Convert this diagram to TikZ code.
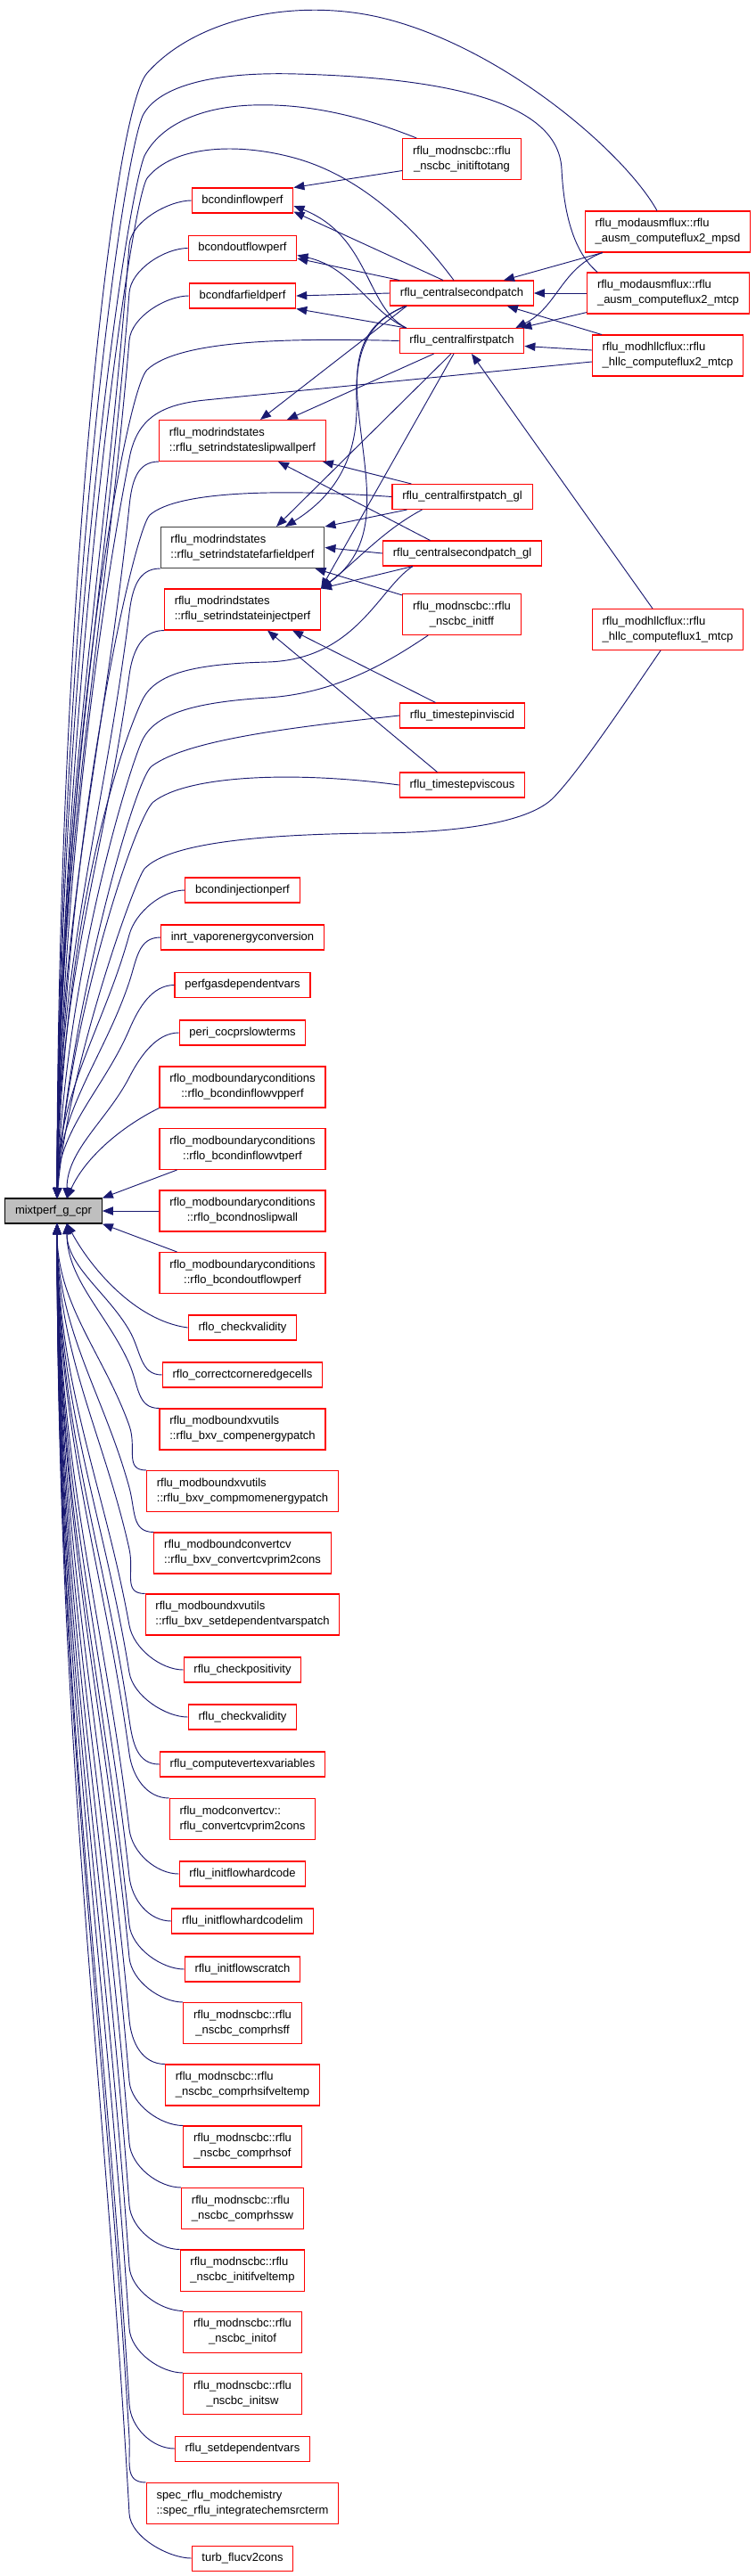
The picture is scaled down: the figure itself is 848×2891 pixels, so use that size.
\documentclass[tikz,border=0pt]{standalone}
\usepackage{fontspec}
\setmainfont{Liberation Sans}
\usepackage{xcolor}
\usetikzlibrary{arrows.meta, calc}
\definecolor{edgeblue}{HTML}{191970}
\definecolor{boxred}{HTML}{FF0000}
\definecolor{mixgray}{HTML}{BFBFBF}

\begin{document}
\begin{tikzpicture}[x=0.75pt, y=-0.75pt,
    every node/.style={font=\fontsize{9.75}{12.75}\selectfont},
    fnbox/.style={draw=boxred, line width=0.8pt, fill=white, inner xsep=8.5pt, inner ysep=2pt, minimum height=21pt},
    fnleft/.style={fnbox, minimum height=34.5pt, align=left},
    fnmid/.style={fnbox, minimum height=34.5pt, align=center},
    call/.style={draw=edgeblue, line width=0.7pt, -{Triangle[length=9pt, width=7pt]}}]
  \useasboundingbox (0,0) rectangle (848,2891);

  % the called function
  \node[fnbox, draw=black, fill=mixgray] (mix) at (60,1359) {mixtperf\_g\_cpr};

  % callers, one line
  \foreach \nm/\xx/\yy/\lbl in {
      bcinflow/272/225/bcondinflowperf, bcoutflow/272/278.5/bcondoutflowperf,
      bcfarfield/272/332/bcondfarfieldperf, bcinject/272/999/bcondinjectionperf,
      inrtvap/272/1052/inrt\_vaporenergyconversion, perfgas/272/1105.5/perfgasdependentvars,
      pericoc/272/1159/peri\_cocprslowterms, rflocheck/272/1490/rflo\_checkvalidity,
      corner/272/1543/rflo\_correctcorneredgecells, checkpos/272/1874/rflu\_checkpositivity,
      rflucheck/272/1927/rflu\_checkvalidity, vertexvars/272/1980/rflu\_computevertexvariables,
      hardcode/272/2103/rflu\_initflowhardcode, hardcodelim/272/2156/rflu\_initflowhardcodelim,
      scratch/272/2210/rflu\_initflowscratch, setdep/272/2748/rflu\_setdependentvars,
      turbcv/272/2871/turb\_flucv2cons,
      csecond/518/329/rflu\_centralsecondpatch, cfirst/518/382.5/rflu\_centralfirstpatch,
      cfirstgl/518.5/557.5/rflu\_centralfirstpatch\_gl, csecondgl/518.5/621/rflu\_centralsecondpatch\_gl,
      tsinv/518.5/803/rflu\_timestepinviscid, tsvisc/518.5/881/rflu\_timestepviscous}
    \node[fnbox] (\nm) at (\xx,\yy) {\lbl};

  % callers, two lines
  \foreach \nm/\xx/\yy/\lbl in {
      slipwall/272/494.5/rflu\_modrindstates\\::rflu\_setrindstateslipwallperf,
      inject/272/684/rflu\_modrindstates\\::rflu\_setrindstateinjectperf,
      compenergy/272/1604/rflu\_modboundxvutils\\::rflu\_bxv\_compenergypatch,
      compmomen/272/1673.5/rflu\_modboundxvutils\\::rflu\_bxv\_compmomenergypatch,
      bxvprim/272/1743/rflu\_modboundconvertcv\\::rflu\_bxv\_convertcvprim2cons,
      bxvsetdep/272/1812/rflu\_modboundxvutils\\::rflu\_bxv\_setdependentvarspatch,
      convprim/272/2041.5/rflu\_modconvertcv::\\rflu\_convertcvprim2cons,
      rhsifvt/272/2340/rflu\_modnscbc::rflu\\\_nscbc\_comprhsifveltemp,
      rhssw/272/2478.5/rflu\_modnscbc::rflu\\\_nscbc\_comprhssw,
      initifvt/272/2548/rflu\_modnscbc::rflu\\\_nscbc\_initifveltemp,
      specchem/272/2809.5/spec\_rflu\_modchemistry\\::spec\_rflu\_integratechemsrcterm,
      ausmmpsd/749/260/rflu\_modausmflux::rflu\\\_ausm\_computeflux2\_mpsd,
      ausmmtcp/749.5/329/rflu\_modausmflux::rflu\\\_ausm\_computeflux2\_mtcp,
      hllctwo/749/399/rflu\_modhllcflux::rflu\\\_hllc\_computeflux2\_mtcp,
      hllcone/749/706.5/rflu\_modhllcflux::rflu\\\_hllc\_computeflux1\_mtcp}
    \node[fnleft] (\nm) at (\xx,\yy) {\lbl};
  \foreach \nm/\xx/\yy/\lbl in {
      inflowvp/272/1220/rflo\_modboundaryconditions\\::rflo\_bcondinflowvpperf,
      inflowvt/272/1289.5/rflo\_modboundaryconditions\\::rflo\_bcondinflowvtperf,
      noslip/272/1359/rflo\_modboundaryconditions\\::rflo\_bcondnoslipwall,
      rflooutflow/272/1428.5/rflo\_modboundaryconditions\\::rflo\_bcondoutflowperf,
      rhsff/272/2270.5/rflu\_modnscbc::rflu\\\_nscbc\_comprhsff,
      rhsof/272/2409/rflu\_modnscbc::rflu\\\_nscbc\_comprhsof,
      initof/272/2617/rflu\_modnscbc::rflu\\\_nscbc\_initof,
      initsw/272/2686.5/rflu\_modnscbc::rflu\\\_nscbc\_initsw,
      initiftot/518/178.5/rflu\_modnscbc::rflu\\\_nscbc\_initiftotang,
      initff/518/689.5/rflu\_modnscbc::rflu\\\_nscbc\_initff}
    \node[fnmid] (\nm) at (\xx,\yy) {\lbl};
  \node[fnleft, draw=black!75] (farfield) at (272,614.5) {rflu\_modrindstates\\::rflu\_setrindstatefarfieldperf};

  \coordinate (elbowx) at (145,0);
  \coordinate (mixtop) at (64,1345);
  \coordinate (mixtopr) at (75,1345);
  \coordinate (mixbot) at (64,1373);
  \coordinate (mixbotr) at (75,1373);

  % fan into mixtperf_g_cpr from above
  \foreach \nm/\anc/\tgt in {bcinflow/west/mixtop, bcoutflow/west/mixtop, bcfarfield/west/mixtop,
      slipwall/south west/mixtop, farfield/south west/mixtop, inject/south west/mixtop,
      bcinject/west/mixtop, inrtvap/west/mixtop, perfgas/west/mixtop, pericoc/west/mixtopr}{
    \coordinate (e) at ($(\nm.\anc -| elbowx)+(0,50)$);
    \draw[call] (\nm.\anc) .. controls +(-25,0) and ($(e)!-20pt!(\tgt)$) .. (e)
      .. controls ($(e)!0.35!(\tgt)$) and ($(\tgt)!0.4!(\tgt |- e)$) .. (\tgt);
  }
  % fan into mixtperf_g_cpr from below
  \foreach \nm/\anc/\tgt in {corner/west/mixbotr, compenergy/north west/mixbotr,
      compmomen/north west/mixbot, bxvprim/north west/mixbot, bxvsetdep/north west/mixbot,
      checkpos/west/mixbot, rflucheck/west/mixbot, vertexvars/west/mixbot,
      convprim/north west/mixbot, hardcode/west/mixbot, hardcodelim/west/mixbot,
      scratch/west/mixbot, rhsff/north west/mixbot, rhsifvt/north west/mixbot,
      rhsof/north west/mixbot, rhssw/north west/mixbot, initifvt/north west/mixbot,
      initof/north west/mixbot, initsw/north west/mixbot, setdep/west/mixbot,
      specchem/north west/mixbot, turbcv/west/mixbot}{
    \coordinate (e) at ($(\nm.\anc -| elbowx)+(0,-50)$);
    \draw[call] (\nm.\anc) .. controls +(-25,0) and ($(e)!-20pt!(\tgt)$) .. (e)
      .. controls ($(e)!0.35!(\tgt)$) and ($(\tgt)!0.4!(\tgt |- e)$) .. (\tgt);
  }
  \draw[call] (inflowvp.south west) .. controls (135,1265) and (95,1300) .. (mixtopr);
  \draw[call] ($(inflowvt.south west)+(20,0)$) -- (mix.north east);
  \draw[call] (noslip.west) -- (mix.east);
  \draw[call] ($(rflooutflow.north west)+(20,0)$) -- (mix.south east);
  \draw[call] (rflocheck.west) .. controls (150,1482) and (100,1420) .. (mixbotr);

  % long edges from the right columns
  \draw[call] ($(ausmmpsd.north)+(-12,0)$) .. controls (700,170) and (560,50) .. (424,19)
    .. controls (330,-2) and (220,20) .. (165,82) .. controls (125,127) and (64,700) .. (mixtop);
  \draw[call] ($(ausmmtcp.north west)+(12,0)$) .. controls (640,280) and (632,230) .. (630,190)
    .. controls (627,120) and (520,88) .. (333,83) .. controls (230,80) and (175,100) .. (160,130)
    .. controls (135,190) and (66,700) .. (mixtop);
  \draw[call] ($(initiftot.north west)+(16,0)$) .. controls (400,128) and (340,116) .. (283,118)
    .. controls (225,120) and (180,140) .. (162,175) .. controls (140,230) and (66,750) .. (mixtop);
  \draw[call] ($(csecond.north)+(-9,0)$) .. controls (470,262) and (410,200) .. (333,178)
    .. controls (270,160) and (195,162) .. (165,200) .. controls (145,230) and (68,800) .. (mixtop);
  \draw[call] (cfirst.west) .. controls (320,379) and (200,382) .. (165,415)
    .. controls (140,440) and (68,850) .. (mixtop);
  \draw[call] ($(hllctwo.west)+(0,7)$) -- (230,449) .. controls (180,454) and (155,470) .. (146,510)
    .. controls (136,560) and (70,900) .. (mixtop);
  \draw[call] (cfirstgl.west) .. controls (320,549) and (200,550) .. (168,578)
    .. controls (150,595) and (70,950) .. (mixtop);
  \draw[call] ($(csecondgl.south west)+(34,0)$) .. controls (425,660) and (400,740) .. (300,743)
    .. controls (220,745) and (175,755) .. (160,785) .. controls (145,815) and (72,1000) .. (mixtop);
  \draw[call] ($(initff.south west)+(29,0)$) .. controls (440,740) and (380,778) .. (300,783)
    .. controls (220,788) and (175,800) .. (160,830) .. controls (145,860) and (72,1100) .. (mixtop);
  \draw[call] (tsinv.west) .. controls (330,816) and (210,830) .. (170,860)
    .. controls (150,875) and (75,1150) .. (mixtop);
  \draw[call] (tsvisc.west) .. controls (330,865) and (210,870) .. (172,900)
    .. controls (152,916) and (75,1150) .. (mixtop);
  \draw[call] ($(hllcone.south)+(-8,0)$) .. controls (700,790) and (650,865) .. (621,895)
    .. controls (595,922) and (520,934) .. (424,935) .. controls (300,936) and (190,945) .. (162,975)
    .. controls (150,990) and (76,1200) .. (mixtop);

  % calls between the callers
  \draw[call] ($(initiftot.west)+(0,13)$) -- (bcinflow.north east);
  \draw[call] ($(csecond.north)+(-21,0)$) -- ($(bcinflow.south east)+(0,-2)$);
  \draw[call] ($(cfirst.north west)+(8,0)$) .. controls (410,345) and (415,265) .. ($(bcinflow.east)+(0,6)$);
  \draw[call] ($(csecond.north west)+(11,0)$) -- ($(bcoutflow.south east)+(0,-3)$);
  \draw[call] ($(cfirst.north west)+(8,0)$) .. controls (415,350) and (395,300) .. ($(bcoutflow.east)+(0,8)$);
  \draw[call] (csecond.west) -- (bcfarfield.east);
  \draw[call] ($(cfirst.north west)+(8,0)$) -- (bcfarfield.south east);
  \draw[call] ($(csecond.south west)+(19,0)$) -- ($(slipwall.north)+(20,0)$);
  \draw[call] ($(cfirst.south west)+(39,0)$) -- ($(slipwall.north)+(50,0)$);
  \draw[call] ($(cfirstgl.north west)+(22,0)$) -- ($(slipwall.south east)+(-4,0)$);
  \draw[call] ($(csecondgl.north)+(-36,0)$) -- ($(slipwall.south)+(40,0)$);
  \draw[call] ($(cfirst.south)+(-12,0)$) -- ($(farfield.north)+(38,0)$);
  \draw[call] ($(cfirst.south)+(-9,0)$) -- (inject.north east);
  \draw[call] ($(csecond.south west)+(19,0)$) .. controls (410,360) and (398,400) .. (400,450)
    .. controls (402,520) and (370,560) .. ($(farfield.north)+(48,0)$);
  \draw[call] ($(csecond.south west)+(17,0)$) .. controls (405,365) and (396,400) .. (402,460)
    .. controls (410,540) and (430,610) .. (inject.north east);
  \draw[call] ($(cfirstgl.south west)+(17,0)$) -- (farfield.north east);
  \draw[call] ($(cfirstgl.south west)+(34,0)$) .. controls (430,595) and (400,630) .. (inject.north east);
  \draw[call] (csecondgl.west) -- (farfield.east);
  \draw[call] ($(csecondgl.south west)+(34,0)$) -- (inject.north east);
  \draw[call] ($(initff.north west)+(0,2)$) -- ($(farfield.south east)+(-11,0)$);
  \draw[call] ($(tsinv.north)+(-30,0)$) -- ($(inject.south)+(56,0)$);
  \draw[call] ($(tsvisc.north)+(-28,0)$) -- ($(inject.south)+(28,0)$);
  \draw[call] ($(ausmmpsd.south west)+(20,0)$) -- ($(csecond.north)+(47,0)$);
  \draw[call] ($(ausmmpsd.south west)+(20,0)$) .. controls (630,300) and (625,345) .. ($(cfirst.north east)+(-10,0)$);
  \draw[call] (ausmmtcp.west) -- (csecond.east);
  \draw[call] ($(ausmmtcp.south west)+(0,-2)$) -- ($(cfirst.north east)+(-4,0)$);
  \draw[call] ($(hllctwo.north west)+(11,0)$) -- ($(csecond.south east)+(-30,0)$);
  \draw[call] ($(hllctwo.west)+(0,-6)$) -- ($(cfirst.east)+(0,6)$);
  \draw[call] ($(hllcone.north)+(-17,0)$) -- ($(cfirst.south)+(11,0)$);
\end{tikzpicture}
\end{document}
